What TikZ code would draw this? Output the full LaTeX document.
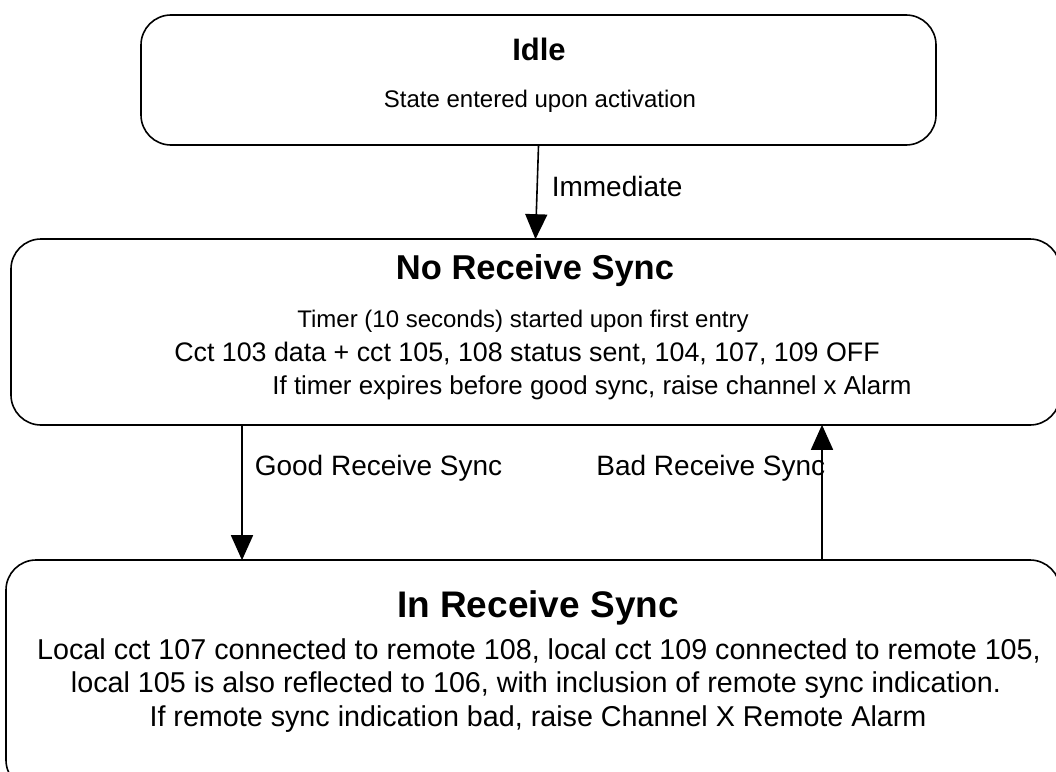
\documentclass[tikz,border=0pt]{standalone}
\usepackage{fontspec}
\setmainfont{Liberation Sans}
\usetikzlibrary{arrows.meta}

\tikzset{
  statebox/.style={draw, line width=1.6pt, rounded corners=30pt, minimum width=#1},
  statetitle/.style={anchor=base, inner sep=0pt, font=\fontsize{#1}{36}\selectfont\bfseries},
  statetext/.style={anchor=base, inner sep=0pt, font=\fontsize{#1}{28}\selectfont},
  edgetext/.style={inner sep=0pt, font=\fontsize{28}{32}\selectfont},
  trans/.style={line width=1.6pt, -{Triangle[length=25pt, width=22pt]}, shorten >=-1pt}
}

\begin{document}
\begin{tikzpicture}[x=1pt, y=-1pt]
    \useasboundingbox (0,0) rectangle (1056,771);
    % states
    \node[statebox=795pt,  minimum height=130pt] (idle)   at (538.5,80) {};
    \node[statebox=1049pt, minimum height=186pt] (nosync) at (535.5,332) {};
    \node[statebox=1054pt, minimum height=230pt] (insync) at (533,675) {};

    \node[statetitle=31] (idletitle) at (539,60)  {Idle};
    \node[statetext=24]  (idleline)  at (540,107) {State entered upon activation};

    \node[statetitle=34.5] (notitle) at (535,279) {No Receive Sync};
    \node[statetext=24]  (noline1) at (523,327) {Timer (10 seconds) started upon first entry};
    \node[statetext=26.8](noline2) at (527,361) {Cct 103 data + cct 105, 108 status sent, 104, 107, 109 OFF};
    \node[statetext=25.9](noline3) at (592,394) {If timer expires before good sync, raise channel x Alarm};

    \node[statetitle=37] (intitle) at (538,617) {In Receive Sync};
    \node[statetext=28.7](inline1) at (539,659) {Local cct 107 connected to remote 108, local cct 109 connected to remote 105,};
    \node[statetext=28.7](inline2) at (536,692) {local 105 is also reflected to 106, with inclusion of remote sync indication.};
    \node[statetext=28.7](inline3) at (538,726) {If remote sync indication bad, raise Channel X Remote Alarm};

    % transitions
    \draw[trans] (idle.south) -- (nosync.north)
          node[edgetext, midway, anchor=west, xshift=14pt, yshift=6pt] (immlabel) {Immediate};
    \draw[trans] ([xshift=-293.5pt]nosync.south) -- ([xshift=-291pt]insync.north)
          node[edgetext, pos=0.32, anchor=west, xshift=12pt] (goodlabel) {Good Receive Sync};
    \draw[trans] ([xshift=289pt]insync.north) -- ([xshift=286.5pt]nosync.south)
          node[edgetext, pos=0.68, anchor=east, xshift=4pt] (badlabel) {Bad Receive Sync};
\end{tikzpicture}
\end{document}
